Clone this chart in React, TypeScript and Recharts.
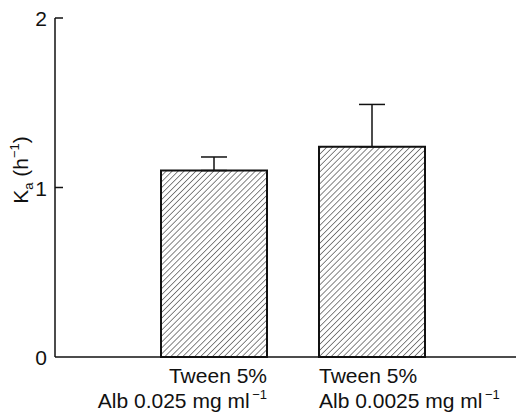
import React from 'react';
import { BarChart, Bar, XAxis, YAxis, ErrorBar } from 'recharts';

// values
const labelsTop = ['Tween 5%', 'Tween 5%'];
const labelsBottom = ['Alb 0.025 mg ml', 'Alb 0.0025 mg ml'];
const kaValues = [1.1, 1.24];
const kaErrors = [0.08, 0.25];
const yTicks = [0, 1, 2];

const data = kaValues.map((v, i) => ({
  name: 'c' + i,
  ka: v,
  err: [0, kaErrors[i]],
}));

const FONT = '"Liberation Sans", Arial, sans-serif';
const BAR = 106;

const XTick = (props: any) => {
  const { x, y, index } = props;
  const first = index === 0;
  const tx = first ? x + BAR / 2 : x - BAR / 2;
  const anchor = first ? 'end' : 'start';
  return (
    <g>
      <text x={tx} y={y + 26} textAnchor={anchor} fontSize={21} fontFamily={FONT} fill="#111">
        {labelsTop[index]}
      </text>
      <text x={tx} y={y + 51} textAnchor={anchor} fontSize={21} fontFamily={FONT} fill="#111">
        {labelsBottom[index]}
        <tspan dy={-9} fontSize={13}>{'\u2009\u22121'}</tspan>
      </text>
    </g>
  );
};

// ticks point into the plot, as in the original
const YTick = (props: any) => {
  const { x, y, payload } = props;
  return (
    <g>
      {payload.value > 0 && (
        <line x1={x} x2={x + 8} y1={y} y2={y} stroke="#111" strokeWidth={1.5} />
      )}
      <text x={x - 8} y={y + 8} textAnchor="end" fontSize={21} fontFamily={FONT} fill="#111">
        {payload.value}
      </text>
    </g>
  );
};

export default function App() {
  return (
    <div style={{ position: 'relative', width: 516, height: 405 }}>
      <svg width={0} height={0} style={{ position: 'absolute' }}>
        <defs>
          <pattern id="hatch" patternUnits="userSpaceOnUse" width={4.2} height={4.2} patternTransform="rotate(45)">
            <rect width={4.2} height={4.2} fill="#fff" />
            <line x1={0} y1={0} x2={0} y2={4.2} stroke="#222" strokeWidth={1.1} />
          </pattern>
        </defs>
      </svg>
      <BarChart
        width={516}
        height={405}
        data={data}
        margin={{ top: 10, right: 0, left: 0, bottom: 0 }}
        barSize={BAR}
      >
        <XAxis
          dataKey="name"
          height={56}
          padding={{ left: 80, right: 73 }}
          axisLine={{ stroke: '#111', strokeWidth: 1.5 }}
          tickLine={false}
          tickSize={0}
          tickMargin={0}
          interval={0}
          tick={<XTick />}
        />
        <YAxis
          width={47}
          domain={[0, 2]}
          ticks={yTicks}
          axisLine={{ stroke: '#111', strokeWidth: 1.5 }}
          tickLine={false}
          tickSize={0}
          tickMargin={0}
          tick={<YTick />}
        />
        <Bar dataKey="ka" fill="url(#hatch)" stroke="#111" strokeWidth={2} isAnimationActive={false}>
          <ErrorBar dataKey="err" width={13} stroke="#111" strokeWidth={1.5} direction="y" />
        </Bar>
        <text
          transform="translate(20,162) rotate(-90)"
          textAnchor="middle"
          fontSize={21}
          fontFamily={FONT}
          fill="#111"
        >
          K<tspan dy={5} fontSize={13}>a</tspan>
          <tspan dy={-5}>{' (h'}</tspan>
          <tspan dy={-9} fontSize={13}>{'\u22121'}</tspan>
          <tspan dy={9}>)</tspan>
        </text>
      </BarChart>
    </div>
  );
}
